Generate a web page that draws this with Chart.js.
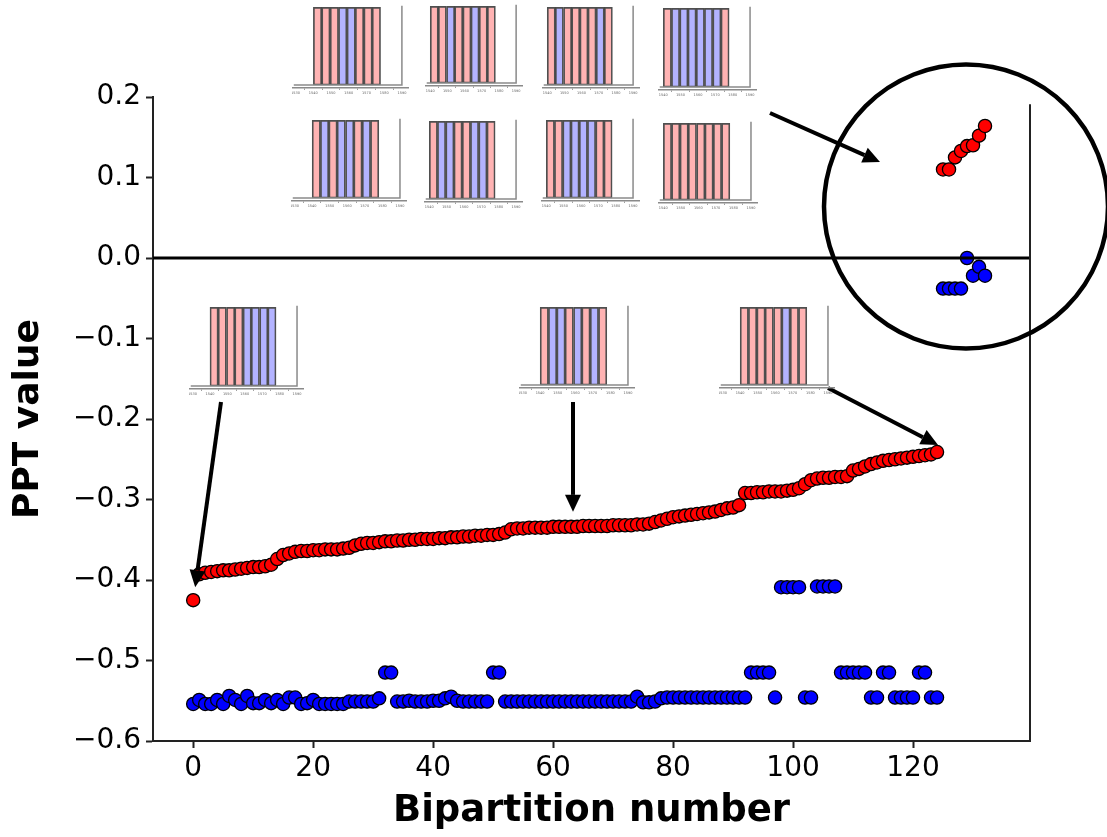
<!DOCTYPE html>
<html><head><meta charset="utf-8">
<script src="https://cdn.jsdelivr.net/npm/chart.js@4.4.1/dist/chart.umd.min.js"></script>
<style>
html,body{margin:0;padding:0;background:#fff;}
#wrap{position:relative;width:1107px;height:837px;overflow:hidden;background:#fff;}
#main{position:absolute;left:0;top:0;}
.inset{position:absolute;}
</style></head><body>
<div id="wrap"><canvas id="main" width="1107" height="837"></canvas></div>
<script>
// ---------------- data ----------------
const redPPT = [
 -0.425,-0.393,-0.391,-0.390,-0.389,-0.388,-0.388,-0.387,-0.386,-0.385,
 -0.384,-0.384,-0.383,-0.381,-0.374,-0.369,-0.367,-0.365,-0.364,-0.364,
 -0.363,-0.363,-0.362,-0.362,-0.362,-0.361,-0.360,-0.357,-0.355,-0.354,
 -0.354,-0.353,-0.352,-0.352,-0.351,-0.351,-0.350,-0.350,-0.349,-0.349,
 -0.349,-0.348,-0.348,-0.347,-0.347,-0.346,-0.346,-0.345,-0.345,-0.344,
 -0.344,-0.343,-0.341,-0.337,-0.336,-0.336,-0.335,-0.335,-0.335,-0.335,
 -0.334,-0.334,-0.334,-0.334,-0.334,-0.333,-0.333,-0.333,-0.333,-0.333,
 -0.332,-0.332,-0.332,-0.332,-0.331,-0.331,-0.330,-0.328,-0.326,-0.324,
 -0.322,-0.321,-0.320,-0.319,-0.318,-0.317,-0.316,-0.315,-0.313,-0.311,
 -0.310,-0.307,-0.292,-0.292,-0.291,-0.291,-0.290,-0.290,-0.290,-0.289,
 -0.288,-0.286,-0.281,-0.276,-0.274,-0.273,-0.273,-0.272,-0.272,-0.271,
 -0.264,-0.262,-0.259,-0.256,-0.254,-0.252,-0.251,-0.250,-0.249,-0.248,
 -0.247,-0.246,-0.245,-0.244,-0.241, 0.110, 0.110, 0.125, 0.133, 0.139,
  0.140, 0.152, 0.164
];
const bluePPT = [
 -0.554,-0.549,-0.554,-0.554,-0.549,-0.554,-0.544,-0.549,-0.554,-0.544,
 -0.553,-0.553,-0.549,-0.553,-0.549,-0.554,-0.546,-0.546,-0.554,-0.553,
 -0.549,-0.554,-0.554,-0.554,-0.554,-0.554,-0.551,-0.551,-0.551,-0.551,
 -0.551,-0.547,-0.515,-0.515,-0.551,-0.551,-0.550,-0.551,-0.551,-0.551,
 -0.550,-0.550,-0.547,-0.545,-0.550,-0.551,-0.551,-0.551,-0.551,-0.551,
 -0.515,-0.515,-0.551,-0.551,-0.551,-0.551,-0.551,-0.551,-0.551,-0.551,
 -0.551,-0.551,-0.551,-0.551,-0.551,-0.551,-0.551,-0.551,-0.551,-0.551,
 -0.551,-0.551,-0.551,-0.551,-0.545,-0.552,-0.552,-0.551,-0.547,-0.546,
 -0.546,-0.546,-0.546,-0.546,-0.546,-0.546,-0.546,-0.546,-0.546,-0.546,
 -0.546,-0.546,-0.546,-0.515,-0.515,-0.515,-0.515,-0.546,-0.409,-0.409,
 -0.409,-0.409,-0.546,-0.546,-0.408,-0.408,-0.408,-0.408,-0.515,-0.515,
 -0.515,-0.515,-0.515,-0.546,-0.546,-0.515,-0.515,-0.546,-0.546,-0.546,
 -0.546,-0.515,-0.515,-0.546,-0.546,-0.038,-0.038,-0.038,-0.038, 0.000,
 -0.022,-0.011,-0.022
];
const bipartition = Array.from({length: redPPT.length}, (_, i) => i);
const xTicks = [0, 20, 40, 60, 80, 100, 120];
const yTicks = [-0.6, -0.5, -0.4, -0.3, -0.2, -0.1, 0.0, 0.1, 0.2];

// inset bar charts (site configurations)
const siteCenters = [1542.4, 1547.1, 1551.9, 1556.6, 1561.4, 1566.1, 1570.9, 1575.6];
const siteHeights = [1, 1, 1, 1, 1, 1, 1, 1];
const insetPatterns = ['RRRBBRRR','RRBRRBRR','RBRRRRBR','RBBBBBBR',
                       'RBRBBRBR','RBBRRBBR','RRBBBBRR','RRRRRRRR',
                       'RRRRBBBB','RBBRBRBR','RRRRRBRR'];
const insetTicksA = [1530, 1540, 1550, 1560, 1570, 1580, 1590];
const insetTicksB = [1540, 1550, 1560, 1570, 1580, 1590];

// ---------------- layout (pixels) ----------------
const insetPx1540 = [313, 430, 547, 663, 311.5, 429, 546, 663, 209.4, 539.5, 739.5];
const insetScale  = [1.767, 1.72, 1.72, 1.74, 1.75, 1.74, 1.74, 1.76, 1.74, 1.75, 1.75];
const insetBarTop = [7, 6, 7, 8, 120, 121, 120, 123, 307, 307, 307];
const insetBase   = [85, 83, 85, 87, 198, 199, 198, 200, 386, 385, 385];
const insetXMin   = [1528, 1537, 1537, 1537, 1528, 1537, 1537, 1537, 1528, 1528, 1528];
const insetXMax = 1594;

const FONT = 'DejaVu Sans';

// ---------------- overlay plugin for main chart ----------------
function arrow(ctx, x0, y0, x1, y1) {
  const ang = Math.atan2(y1 - y0, x1 - x0);
  const hl = 17, hw = 8;
  const bx = x1 - hl * Math.cos(ang), by = y1 - hl * Math.sin(ang);
  ctx.beginPath(); ctx.moveTo(x0, y0); ctx.lineTo(bx, by); ctx.stroke();
  ctx.beginPath();
  ctx.moveTo(x1, y1);
  ctx.lineTo(bx + hw * Math.sin(ang), by - hw * Math.cos(ang));
  ctx.lineTo(bx - hw * Math.sin(ang), by + hw * Math.cos(ang));
  ctx.closePath(); ctx.fill();
}
const overlay = {
  id: 'overlay',
  afterDatasetsDraw(chart) {
    const {ctx, chartArea: a, scales: {x, y}} = chart;
    ctx.save();
    ctx.strokeStyle = '#000'; ctx.lineWidth = 3;
    const y0 = y.getPixelForValue(0);
    ctx.beginPath(); ctx.moveTo(a.left, y0); ctx.lineTo(a.right, y0); ctx.stroke();
    ctx.strokeStyle = '#222'; ctx.lineWidth = 2;
    ctx.beginPath(); ctx.moveTo(a.right, y.getPixelForValue(0.191)); ctx.lineTo(a.right, a.bottom); ctx.stroke();
    ctx.strokeStyle = '#000'; ctx.fillStyle = '#000'; ctx.lineWidth = 4; ctx.lineCap = 'butt';
    arrow(ctx, 221, 402, x.getPixelForValue(0) + 2, y.getPixelForValue(redPPT[0]) - 13);
    arrow(ctx, 573, 402, 573, y.getPixelForValue(redPPT[63]) - 15);
    arrow(ctx, 828, 388, x.getPixelForValue(124) + 1, y.getPixelForValue(redPPT[124]) - 7);
    arrow(ctx, 770, 113, 880, 162);
    ctx.lineWidth = 4.5;
    ctx.beginPath(); ctx.arc(966, 206.5, 142, 0, Math.PI * 2); ctx.stroke();
    ctx.restore();
  }
};

const fmtY = v => (v < -1e-9 ? '\u2212' : '') + Math.abs(v).toFixed(1);

new Chart(document.getElementById('main'), {
  type: 'scatter',
  data: {
    datasets: [
      { label: 'red', data: bipartition.map((b, i) => ({x: b, y: redPPT[i]})),
        backgroundColor: '#ff0000', borderColor: '#000', borderWidth: 1.3, pointRadius: 6.6 },
      { label: 'blue', data: bipartition.map((b, i) => ({x: b, y: bluePPT[i]})),
        backgroundColor: '#0000ff', borderColor: '#000', borderWidth: 1.3, pointRadius: 6.6 }
    ]
  },
  options: {
    responsive: false, animation: false, devicePixelRatio: 1,
    layout: { padding: { left: 0, right: 77, top: 97, bottom: 0 } },
    plugins: { legend: { display: false }, tooltip: { enabled: false } },
    scales: {
      x: {
        type: 'linear', min: -6.7, max: 139.5,
        afterBuildTicks: s => { s.ticks = xTicks.map(v => ({value: v})); },
        ticks: { font: { family: FONT, size: 28 }, color: '#000', padding: 4, maxRotation: 0, autoSkip: false,
                 callback: v => String(v) },
        grid: { drawOnChartArea: false, drawTicks: true, tickLength: 7, tickWidth: 2, tickColor: '#222' },
        border: { display: true, color: '#222', width: 2 },
        title: { display: true, text: 'Bipartition number', color: '#000',
                 font: { family: FONT, size: 37, weight: 'bold' }, padding: { top: 0, bottom: 3 } },
        afterFit: s => { s.height = 96; }
      },
      y: {
        type: 'linear', min: -0.6, max: 0.2,
        afterBuildTicks: s => { s.ticks = yTicks.map(v => ({value: v})); },
        ticks: { font: { family: FONT, size: 28 }, color: '#000', padding: 5, autoSkip: false,
                 callback: v => fmtY(v) },
        grid: { drawOnChartArea: false, drawTicks: true, tickLength: 7, tickWidth: 2, tickColor: '#222' },
        border: { display: true, color: '#222', width: 2 },
        title: { display: true, text: 'PPT value', color: '#000',
                 font: { family: FONT, size: 36, weight: 'bold' }, padding: { top: 7, bottom: 0 } },
        afterFit: s => { s.width = 153; }
      }
    }
  },
  plugins: [overlay]
});

// ---------------- insets ----------------
const COLORS = { R: '#ffb3b3', B: '#b3b3ff' };
const insetFrame = {
  id: 'insetFrame',
  afterDatasetsDraw(c) {
    const {ctx, scales: {x, y}} = c;
    ctx.save();
    ctx.strokeStyle = '#8a8a8a'; ctx.lineWidth = 1.5;
    ctx.beginPath();
    ctx.moveTo(x.getPixelForValue(x.min + 1), y.getPixelForValue(0));
    ctx.lineTo(x.getPixelForValue(1590), y.getPixelForValue(0));
    ctx.lineTo(x.getPixelForValue(1590), y.getPixelForValue(1.02));
    ctx.stroke();
    ctx.restore();
  }
};
const wrap = document.getElementById('wrap');
insetPatterns.forEach((pat, k) => {
  const s = insetScale[k], xmin = insetXMin[k];
  const v = insetBase[k] - insetBarTop[k];
  const areaTop = insetBarTop[k] - 0.03 * v;
  const areaBottom = insetBase[k] + 3;
  const axisH = 11;
  const left = insetPx1540[k] - (1540 - xmin) * s;
  const width = (insetXMax - xmin) * s;
  const height = areaBottom - areaTop + axisH;
  const cv = document.createElement('canvas');
  cv.className = 'inset';
  cv.width = Math.round(width); cv.height = Math.round(height);
  cv.style.left = left + 'px'; cv.style.top = areaTop + 'px';
  wrap.appendChild(cv);
  const ticksArr = xmin < 1530 ? insetTicksA : insetTicksB;
  new Chart(cv, {
    type: 'bar',
    data: { datasets: [{
      data: siteCenters.map((c, i) => ({x: c, y: siteHeights[i]})),
      backgroundColor: pat.split('').map(ch => COLORS[ch]),
      borderColor: 'rgba(60,60,60,0.9)', borderWidth: 1.7, borderSkipped: false,
      barPercentage: 1, categoryPercentage: 1
    }]},
    options: {
      responsive: false, animation: false, devicePixelRatio: 1,
      layout: { padding: 0 },
      plugins: { legend: { display: false }, tooltip: { enabled: false } },
      scales: {
        x: { type: 'linear', min: xmin, max: insetXMax, offset: false,
             afterBuildTicks: sc => { sc.ticks = ticksArr.map(t => ({value: t})); },
             ticks: { font: { family: FONT, size: 3.5 }, color: '#666', padding: 1, maxRotation: 0, autoSkip: false,
                      callback: t => String(t) },
             grid: { drawOnChartArea: false, tickLength: 2, tickColor: '#888', tickWidth: 0.8 },
             border: { display: true, color: '#8a8a8a', width: 1.5 },
             afterFit: sc => { sc.height = axisH; sc.paddingLeft = 0; sc.paddingRight = 0; } },
        y: { display: false, min: -3 / v, max: 1.03 }
      }
    },
    plugins: [insetFrame]
  });
});
</script>
</body></html>
